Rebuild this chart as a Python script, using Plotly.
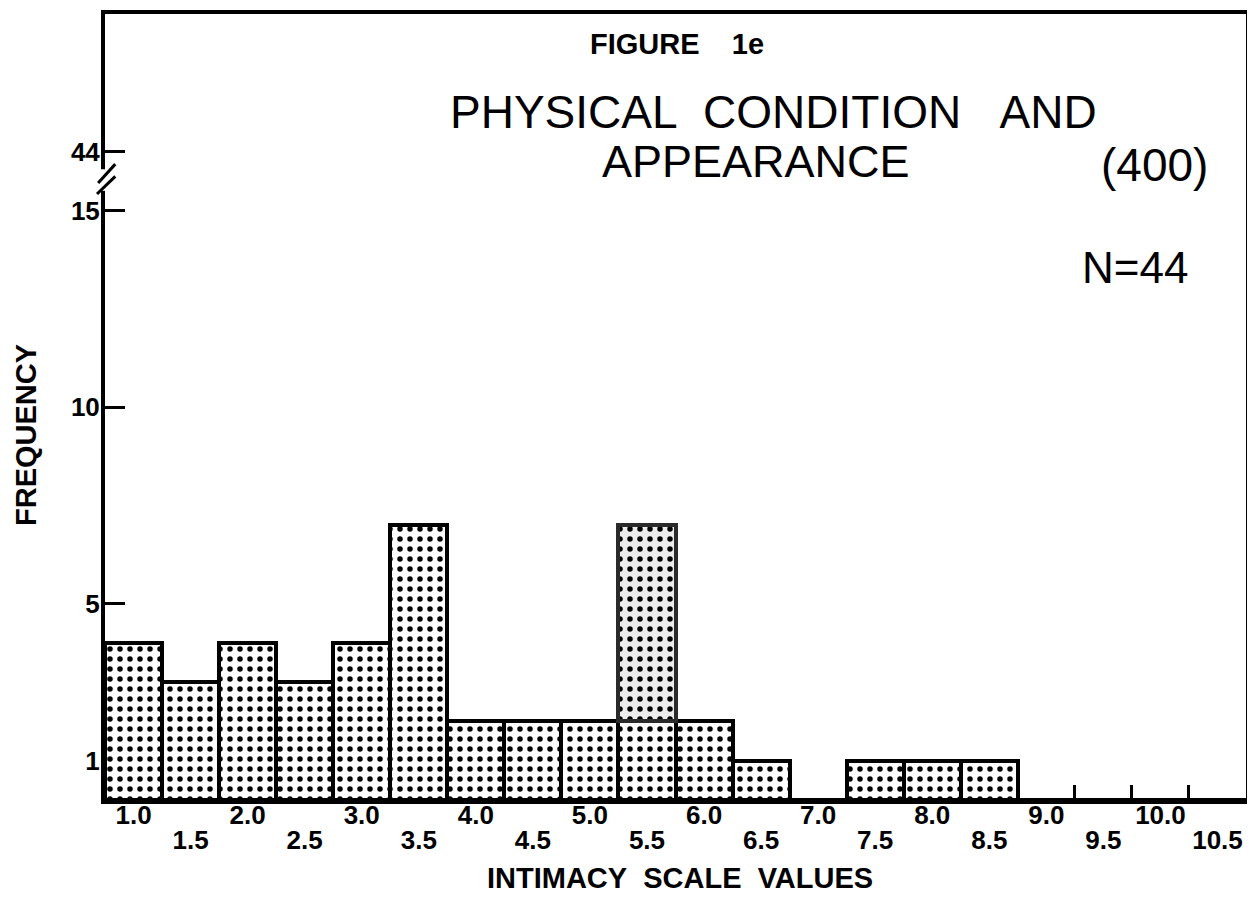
import plotly.graph_objects as go

# ---- data ----
scale_values = [1.0, 1.5, 2.0, 2.5, 3.0, 3.5, 4.0, 4.5, 5.0, 5.5,
                6.0, 6.5, 7.0, 7.5, 8.0, 8.5, 9.0, 9.5, 10.0, 10.5]
frequency = [4, 3, 4, 3, 4, 7, 2, 2, 2, 7,
             2, 1, 0, 1, 1, 1, 0, 0, 0, 0]
# the 5.5 column is drawn in two parts in the original (lower part + pasted-on upper part)
split_value = [5.5]
split_lower = [2]

x_labels_upper = ["1.0", "2.0", "3.0", "4.0", "5.0", "6.0", "7.0", "8.0", "9.0", "10.0"]
x_labels_upper_vals = [1.0, 2.0, 3.0, 4.0, 5.0, 6.0, 7.0, 8.0, 9.0, 10.0]
x_labels_lower = ["1.5", "2.5", "3.5", "4.5", "5.5", "6.5", "7.5", "8.5", "9.5", "10.5"]
x_labels_lower_vals = [1.5, 2.5, 3.5, 4.5, 5.5, 6.5, 7.5, 8.5, 9.5, 10.5]

y_tick_vals = [1, 5, 10, 15, 16.5]
y_tick_text = ["1", "5", "10", "15", "44"]

bin_width = 0.5
x_range = [0.75, 10.75]
y_range = [0, 20]

FONT = "Liberation Sans"
dots = dict(shape=".", size=10, solidity=0.24, fgcolor="black", bgcolor="white", fillmode="replace")

fig = go.Figure()

fig.add_trace(go.Bar(
    x=scale_values, y=frequency, width=bin_width,
    marker=dict(color="white", pattern=dots, line=dict(color="black", width=4)),
    showlegend=False, hoverinfo="x+y",
))

# upper pasted part of the 5.5 column
upper_part = [frequency[scale_values.index(v)] - lo for v, lo in zip(split_value, split_lower)]
fig.add_trace(go.Bar(
    x=split_value, y=upper_part, base=split_lower, width=bin_width,
    marker=dict(color="white",
                pattern=dict(shape=".", size=10, solidity=0.24, fgcolor="black",
                             bgcolor="#ececec", fillmode="replace"),
                line=dict(color="#2a2a2a", width=4)),
    showlegend=False, hoverinfo="skip",
))

# the page body has an 8px default margin, so the figure is sized to fit inside it
fig.update_layout(
    width=1247, height=902,
    margin=dict(l=97, r=9, t=6, b=110, autoexpand=False),
    paper_bgcolor="white", plot_bgcolor="white",
    barmode="overlay", bargap=0,
    font=dict(family=FONT, color="black"),
    xaxis=dict(
        range=x_range, showgrid=False, zeroline=False, automargin=False,
        showline=True, linecolor="black", linewidth=4, mirror=True,
        layer="below traces",
        tickvals=x_labels_upper_vals, ticktext=x_labels_upper,
        ticks="inside", ticklen=0,
        tickfont=dict(family=FONT, size=26, weight="bold"),
        ticklabelstandoff=-11,
        minor=dict(tick0=x_range[0], dtick=bin_width, ticks="inside",
                   ticklen=15, tickwidth=3, tickcolor="black", showgrid=False),
    ),
    xaxis2=dict(
        range=x_range, overlaying="x", matches="x", side="bottom", anchor="y",
        showgrid=False, zeroline=False, showline=False, automargin=False,
        tickvals=x_labels_lower_vals, ticktext=x_labels_lower,
        ticks="", tickfont=dict(family=FONT, size=26, weight="bold"),
        ticklabelstandoff=22,
    ),
    yaxis=dict(
        range=y_range, showgrid=False, zeroline=False, automargin=False,
        showline=True, linecolor="black", linewidth=4, mirror=True,
        layer="below traces",
        tickvals=y_tick_vals, ticktext=y_tick_text,
        ticks="inside", ticklen=20, tickwidth=3, tickcolor="black",
        tickfont=dict(family=FONT, size=26, weight="bold"),
        ticklabelstandoff=-4,
    ),
)

# invisible trace to activate xaxis2
fig.add_trace(go.Scatter(x=[x_range[0]], y=[0], xaxis="x2", mode="markers",
                         marker=dict(opacity=0), showlegend=False, hoverinfo="skip"))

# axis break between 15 and 44
fig.add_shape(type="rect", xref="paper", yref="y", x0=-0.004, x1=0.004, y0=15.5, y1=16.05,
              fillcolor="white", line=dict(width=0), layer="above")
fig.add_shape(type="line", xref="paper", yref="y", x0=-0.006, y0=15.7, x1=0.009, y1=16.18,
              line=dict(color="black", width=3))
fig.add_shape(type="line", xref="paper", yref="y", x0=-0.007, y0=15.42, x1=0.009, y1=15.87,
              line=dict(color="black", width=3))

# titles and texts
fig.add_annotation(text="FIGURE\u00a0\u00a0\u00a0\u00a01e", xref="paper", yref="paper", x=0.501, y=0.962,
                   xanchor="center", yanchor="middle", showarrow=False,
                   font=dict(family=FONT, size=29, weight="bold"))
fig.add_annotation(text="PHYSICAL\u00a0\u00a0CONDITION\u00a0\u00a0\u00a0AND", xref="paper", yref="paper",
                   x=0.3006, y=0.875, xanchor="left", yanchor="middle", showarrow=False,
                   font=dict(family=FONT, size=46))
fig.add_annotation(text="APPEARANCE", xref="paper", yref="paper", x=0.434, y=0.812,
                   xanchor="left", yanchor="middle", showarrow=False,
                   font=dict(family=FONT, size=45))
fig.add_annotation(text="(400)", xref="paper", yref="paper", x=0.9685, y=0.808,
                   xanchor="right", yanchor="middle", showarrow=False,
                   font=dict(family=FONT, size=46))
fig.add_annotation(text="N=44", xref="paper", yref="paper", x=0.8545, y=0.678,
                   xanchor="left", yanchor="middle", showarrow=False,
                   font=dict(family=FONT, size=44))
fig.add_annotation(text="FREQUENCY", xref="paper", yref="paper", x=-0.0692, y=0.4644,
                   xanchor="center", yanchor="middle", textangle=-90, showarrow=False,
                   font=dict(family=FONT, size=29, weight="bold"))
fig.add_annotation(text="INTIMACY\u00a0\u00a0SCALE\u00a0\u00a0VALUES", xref="paper", yref="paper",
                   x=0.504, y=-0.0992, xanchor="center", yanchor="middle", showarrow=False,
                   font=dict(family=FONT, size=29, weight="bold"))

fig.write_html("out.html")
